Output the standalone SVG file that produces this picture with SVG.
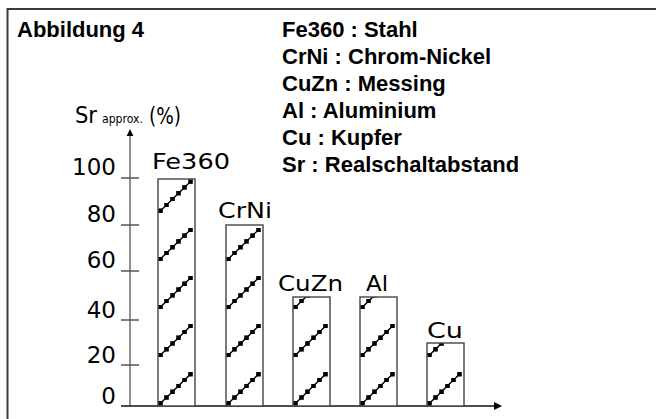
<svg xmlns="http://www.w3.org/2000/svg" xmlns:xlink="http://www.w3.org/1999/xlink" width="656" height="419" viewBox="0 0 656 419">
<style>
.frame{fill:none;stroke:#3a3a3a;stroke-width:2}
.legend{font-family:"Liberation Sans",Arial,sans-serif;font-weight:bold;font-size:22px;fill:#000}
.lbl{font-family:"DejaVu Sans","Liberation Sans",sans-serif;font-size:22px;fill:#000}
.tick{font-family:"DejaVu Sans","Liberation Sans",sans-serif;font-size:23px;fill:#000;text-anchor:end}
.axl{font-family:"DejaVu Sans","Liberation Sans",sans-serif;fill:#000}
.axis{stroke:#555;stroke-width:1.3;fill:none}
.xaxis{stroke:#111;stroke-width:1.5;fill:none}
.barbg{fill:#fff;stroke:none}
.bar{fill:none;stroke:#444;stroke-width:1.4}
.hl{fill:none;stroke:#000;stroke-width:1.4;marker-start:url(#sq);marker-mid:url(#sq);marker-end:url(#sq)}
</style>
<defs>
<marker id="sq" markerUnits="userSpaceOnUse" markerWidth="4.6" markerHeight="4.6" refX="2.3" refY="2.3" viewBox="0 0 4.6 4.6" orient="0">
<rect x="0" y="0" width="4.6" height="4.6" fill="#000"/>
</marker>
<g id="hatch">
<polyline class="hl" points="2.5,-2.7 8.5,-8.5 14.5,-14.3 20.5,-20.2 26.5,-26.0 32.5,-31.8"/>
<polyline class="hl" points="2.5,-50.9 8.5,-56.7 14.5,-62.5 20.5,-68.3 26.5,-74.1 32.5,-79.9"/>
<polyline class="hl" points="2.5,-99.0 8.5,-104.8 14.5,-110.6 20.5,-116.5 26.5,-122.3 32.5,-128.1"/>
<polyline class="hl" points="2.5,-147.2 8.5,-153.0 14.5,-158.8 20.5,-164.6 26.5,-170.4 32.5,-176.2"/>
<polyline class="hl" points="2.5,-195.3 8.5,-201.1 14.5,-206.9 20.5,-212.8 26.5,-218.6 32.5,-224.4"/>
</g>
<clipPath id="cFe"><rect x="158" y="179" width="37" height="227"/></clipPath>
<clipPath id="cCr"><rect x="226" y="225" width="37" height="181"/></clipPath>
<clipPath id="cCz"><rect x="293" y="297" width="37" height="109"/></clipPath>
<clipPath id="cAl"><rect x="360" y="297" width="37" height="109"/></clipPath>
<clipPath id="cCu"><rect x="427" y="343" width="37" height="63"/></clipPath>
</defs>
<rect x="0" y="0" width="656" height="419" fill="#fff"/>
<path class="frame" d="M7.5,419 V9 H656"/>
<g id="title"><text class="legend" x="17" y="37">Abbildung 4</text></g>
<g id="legend">
<text class="legend" x="282" y="37">Fe360 : Stahl</text>
<text class="legend" x="282" y="64">CrNi : Chrom-Nickel</text>
<text class="legend" x="282" y="91">CuZn : Messing</text>
<text class="legend" x="282" y="118">Al : Aluminium</text>
<text class="legend" x="282" y="145">Cu : Kupfer</text>
<text class="legend" x="282" y="172">Sr : Realschaltabstand</text>
</g>
<g id="yaxis-label">
<text class="axl" x="75" y="123" font-size="23" textLength="22" lengthAdjust="spacingAndGlyphs">Sr</text>
<text class="axl" x="102" y="123" font-size="12" textLength="41" lengthAdjust="spacingAndGlyphs">approx.</text>
<text class="axl" x="149" y="124" font-size="23" textLength="32" lengthAdjust="spacingAndGlyphs">(%)</text>
</g>
<g id="ticks">
<text class="tick" x="116" y="175">100</text>
<text class="tick" x="116" y="222">80</text>
<text class="tick" x="116" y="268">60</text>
<text class="tick" x="116" y="318">40</text>
<text class="tick" x="116" y="363">20</text>
<text class="tick" x="116" y="404">0</text>
<path class="axis" d="M121,178 H139 M121,225 H139 M121,271 H139 M121,320 H139 M121,365 H139"/>
</g>
<g id="connectors">
<path class="axis" d="M130,406 V135"/>
<polygon points="130,129 133.3,136 126.7,136" fill="#000"/>
<path class="xaxis" d="M121,406 H495"/>
<polygon points="502,406 494,402 494,410" fill="#000"/>
</g>
<g id="bar-fe360">
<rect class="barbg" x="158" y="179" width="37" height="227"/>
<g clip-path="url(#cFe)"><use xlink:href="#hatch" transform="translate(158,406)"/></g>
<rect class="bar" x="158" y="179" width="37" height="227"/>
<text class="lbl" x="152" y="169" textLength="78" lengthAdjust="spacingAndGlyphs">Fe360</text>
</g>
<g id="bar-crni">
<rect class="barbg" x="226" y="225" width="37" height="181"/>
<g clip-path="url(#cCr)"><use xlink:href="#hatch" transform="translate(226,406)"/></g>
<rect class="bar" x="226" y="225" width="37" height="181"/>
<text class="lbl" x="218" y="218" textLength="54" lengthAdjust="spacingAndGlyphs">CrNi</text>
</g>
<g id="bar-cuzn">
<rect class="barbg" x="293" y="297" width="37" height="109"/>
<g clip-path="url(#cCz)"><use xlink:href="#hatch" transform="translate(293,406)"/></g>
<rect class="bar" x="293" y="297" width="37" height="109"/>
<text class="lbl" x="278" y="291" textLength="65" lengthAdjust="spacingAndGlyphs">CuZn</text>
</g>
<g id="bar-al">
<rect class="barbg" x="360" y="297" width="37" height="109"/>
<g clip-path="url(#cAl)"><use xlink:href="#hatch" transform="translate(360,406)"/></g>
<rect class="bar" x="360" y="297" width="37" height="109"/>
<text class="lbl" x="366" y="291" textLength="22" lengthAdjust="spacingAndGlyphs">Al</text>
</g>
<g id="bar-cu">
<rect class="barbg" x="427" y="343" width="37" height="63"/>
<g clip-path="url(#cCu)"><use xlink:href="#hatch" transform="translate(427,406)"/></g>
<rect class="bar" x="427" y="343" width="37" height="63"/>
<text class="lbl" x="427" y="338" textLength="36" lengthAdjust="spacingAndGlyphs">Cu</text>
</g>
</svg>
